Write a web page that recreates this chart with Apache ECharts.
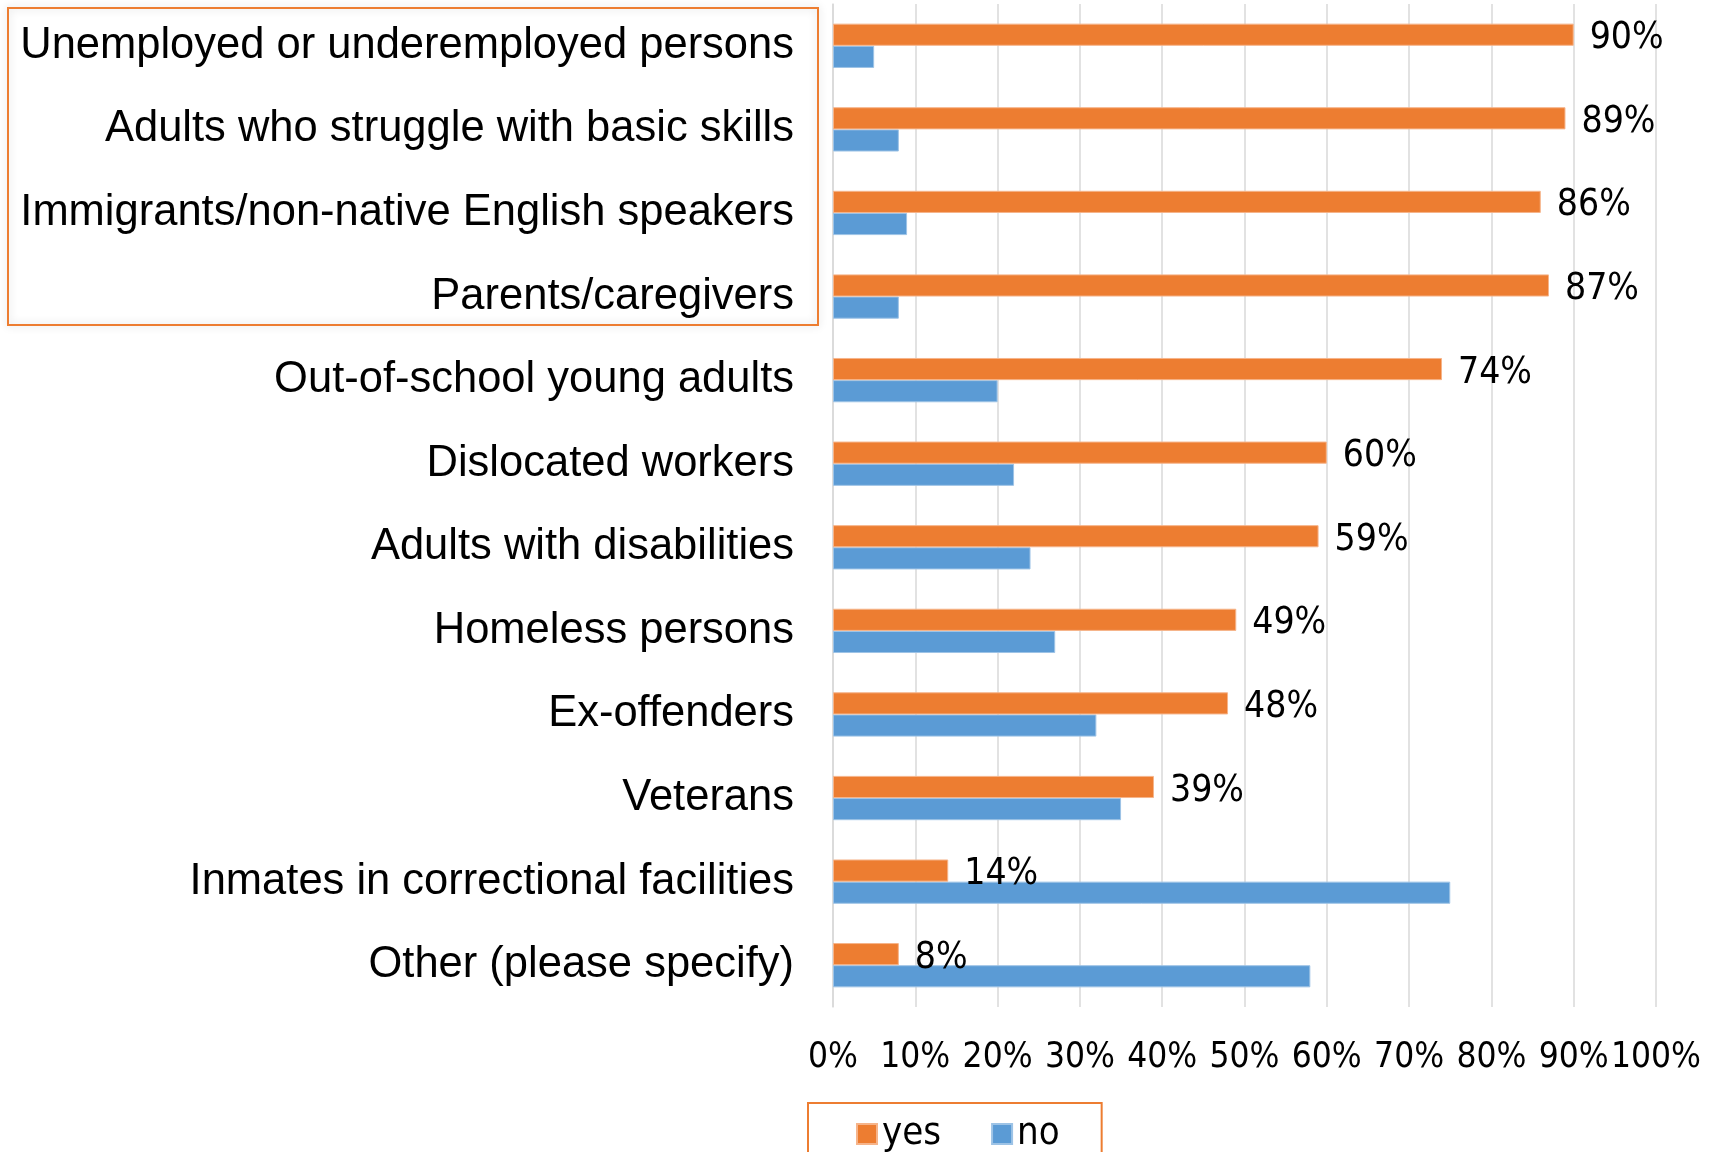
<!DOCTYPE html>
<html>
<head>
<meta charset="utf-8">
<script src="https://cdn.jsdelivr.net/npm/echarts@6/dist/echarts.min.js"></script>
<style>
  html, body { margin: 0; padding: 0; background: #fff; }
  #chart { width: 1718px; height: 1152px; }
</style>
</head>
<body>
<div id="chart"></div>
<script>
// Target groups served, share of respondents answering yes / no
const categories = [
  'Unemployed or underemployed persons',
  'Adults who struggle with basic skills',
  'Immigrants/non-native English speakers',
  'Parents/caregivers',
  'Out-of-school young adults',
  'Dislocated workers',
  'Adults with disabilities',
  'Homeless persons',
  'Ex-offenders',
  'Veterans',
  'Inmates in correctional facilities',
  'Other (please specify)'
];
const yesValues = [90, 89, 86, 87, 74, 60, 59, 49, 48, 39, 14, 8];
const noValues = [5, 8, 9, 8, 20, 22, 24, 27, 32, 35, 75, 58];
const seriesNames = ['yes', 'no'];

const ORANGE = '#ED7D31';
const BLUE = '#5B9BD5';
const NARROW = '"DejaVu Sans Condensed", "Liberation Sans Narrow", sans-serif';
const LABEL_FONT = '"Liberation Sans", Arial, sans-serif';

const chart = echarts.init(document.getElementById('chart'), null, { renderer: 'canvas' });

chart.setOption({
  animation: false,
  backgroundColor: '#ffffff',
  grid: { left: 833, right: 62, top: 4, bottom: 145, containLabel: false },
  xAxis: {
    type: 'value',
    min: 0,
    max: 100,
    interval: 10,
    axisLine: { show: false },
    axisTick: { show: false },
    splitLine: { show: true, lineStyle: { color: '#D9D9D9', width: 1.5 } },
    axisLabel: {
      formatter: '{value}%',
      fontFamily: NARROW,
      fontSize: 35,
      color: '#000',
      margin: 33,
      showMinLabel: true,
      showMaxLabel: true,
      hideOverlap: false
    }
  },
  yAxis: {
    type: 'category',
    data: categories,
    inverse: true,
    axisLine: { show: true, lineStyle: { color: '#D9D9D9', width: 1.5 } },
    axisTick: { show: false },
    axisLabel: {
      fontFamily: LABEL_FONT,
      fontSize: 43.5,
      color: '#000',
      margin: 39
    }
  },
  legend: {
    data: seriesNames,
    left: 808,
    top: 1103,
    orient: 'horizontal',
    icon: 'rect',
    itemWidth: 20,
    itemHeight: 20,
    itemGap: 50,
    padding: [12, 42, 40, 48],
    borderColor: ORANGE,
    borderWidth: 2,
    textStyle: { fontFamily: NARROW, fontSize: 38, lineHeight: 24, color: '#000' }
  },
  graphic: [{
    type: 'rect',
    left: 7,
    top: 7,
    shape: { width: 810, height: 317 },
    style: {
      fill: 'rgba(255,255,255,0)',
      stroke: ORANGE,
      lineWidth: 2,
      shadowBlur: 8,
      shadowColor: 'rgba(0,0,0,0.18)'
    },
    z: 10
  }],
  series: [
    {
      name: seriesNames[0],
      type: 'bar',
      data: yesValues,
      barGap: '0%',
      barCategoryGap: '47%',
      z: 3,
      itemStyle: { color: ORANGE, borderColor: '#F6B48A', borderWidth: 1 },
      label: {
        show: true,
        position: 'right',
        distance: 16,
        offset: [0, 4],
        formatter: '{c}%',
        fontFamily: NARROW,
        fontSize: 37,
        color: '#000'
      }
    },
    {
      name: seriesNames[1],
      type: 'bar',
      data: noValues,
      barGap: '0%',
      barCategoryGap: '47%',
      z: 2,
      itemStyle: { color: BLUE, borderColor: '#9DC3E6', borderWidth: 1 }
    }
  ]
});
</script>
</body>
</html>
